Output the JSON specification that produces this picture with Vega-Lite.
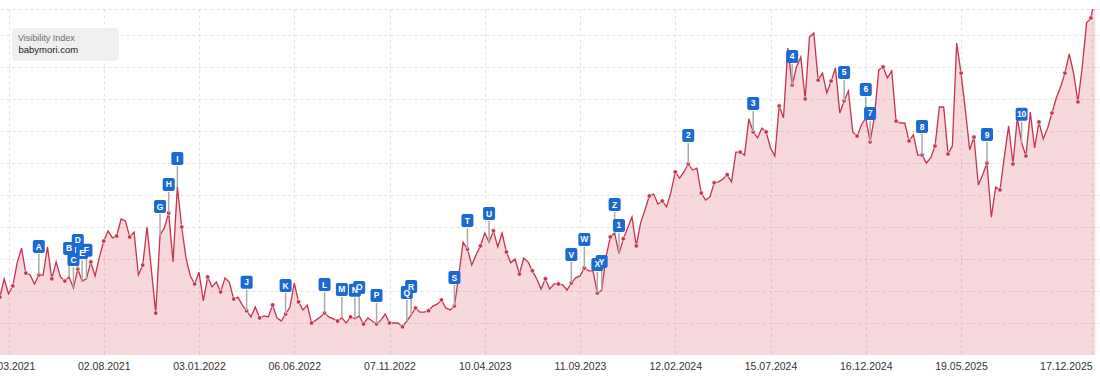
{
  "$schema": "https://vega.github.io/schema/vega-lite/v6.json",
  "autosize": "none",
  "width": 1100,
  "height": 346,
  "padding": {"left": 0, "top": 9, "right": 0, "bottom": 25},
  "background": "white",
  "config": {"view": {"stroke": null}, "font": "Liberation Sans"},
  "data": {"values": [
    {"d":"2021-02-15","v":18.1},{"d":"2021-02-22","v":23.8},{"d":"2021-03-01","v":19.1},{"d":"2021-03-08","v":21.6},{"d":"2021-03-15","v":28.8},{"d":"2021-03-22","v":33.4},{"d":"2021-03-29","v":25.6},{"d":"2021-04-05","v":25.0},{"d":"2021-04-12","v":22.2},{"d":"2021-04-19","v":25.0,"f":"A"},
    {"d":"2021-04-26","v":25.0},{"d":"2021-05-03","v":33.8},{"d":"2021-05-10","v":23.8},{"d":"2021-05-17","v":29.1},{"d":"2021-05-24","v":24.4},{"d":"2021-05-31","v":23.1},{"d":"2021-06-07","v":24.4,"f":"B"},{"d":"2021-06-14","v":20.9,"f":"C"},{"d":"2021-06-21","v":26.9,"f":"D"},{"d":"2021-06-28","v":23.1,"f":"E"},
    {"d":"2021-07-05","v":23.8,"f":"F"},{"d":"2021-07-12","v":29.1},{"d":"2021-07-19","v":24.7},{"d":"2021-07-26","v":30.6},{"d":"2021-08-02","v":35.6},{"d":"2021-08-09","v":38.8},{"d":"2021-08-16","v":36.6},{"d":"2021-08-23","v":37.2},{"d":"2021-08-30","v":42.5},{"d":"2021-09-06","v":41.9},
    {"d":"2021-09-13","v":36.9},{"d":"2021-09-20","v":38.4},{"d":"2021-09-27","v":25.0},{"d":"2021-10-04","v":28.1},{"d":"2021-10-11","v":40.0},{"d":"2021-10-18","v":26.6},{"d":"2021-10-25","v":13.1},{"d":"2021-11-01","v":37.5,"f":"G"},{"d":"2021-11-08","v":39.7},{"d":"2021-11-15","v":44.4,"f":"H"},
    {"d":"2021-11-22","v":29.1},{"d":"2021-11-29","v":52.5,"f":"I"},{"d":"2021-12-06","v":40.0},{"d":"2021-12-13","v":30.3},{"d":"2021-12-20","v":24.7},{"d":"2021-12-27","v":22.2},{"d":"2022-01-03","v":25.9},{"d":"2022-01-10","v":16.9},{"d":"2022-01-17","v":24.4},{"d":"2022-01-24","v":21.3},
    {"d":"2022-01-31","v":22.8},{"d":"2022-02-07","v":19.7},{"d":"2022-02-14","v":24.1},{"d":"2022-02-21","v":22.8},{"d":"2022-02-28","v":17.5},{"d":"2022-03-07","v":18.1},{"d":"2022-03-14","v":15.6},{"d":"2022-03-21","v":13.8,"f":"J"},{"d":"2022-03-28","v":11.9},{"d":"2022-04-04","v":15.0},
    {"d":"2022-04-11","v":11.6},{"d":"2022-04-18","v":12.2},{"d":"2022-04-25","v":11.9},{"d":"2022-05-02","v":15.6},{"d":"2022-05-09","v":11.6},{"d":"2022-05-16","v":10.6},{"d":"2022-05-23","v":12.8,"f":"K"},{"d":"2022-05-30","v":15.0},{"d":"2022-06-06","v":22.5},{"d":"2022-06-13","v":16.6},
    {"d":"2022-06-20","v":14.1},{"d":"2022-06-27","v":15.6},{"d":"2022-07-04","v":10.0},{"d":"2022-07-11","v":10.9},{"d":"2022-07-18","v":11.9},{"d":"2022-07-25","v":13.1,"f":"L"},{"d":"2022-08-01","v":11.9},{"d":"2022-08-08","v":11.3},{"d":"2022-08-15","v":10.6},{"d":"2022-08-22","v":11.6,"f":"M"},
    {"d":"2022-08-29","v":10.0},{"d":"2022-09-05","v":11.9},{"d":"2022-09-12","v":11.3,"f":"N"},{"d":"2022-09-19","v":12.2,"f":"O"},{"d":"2022-09-26","v":9.7},{"d":"2022-10-03","v":11.6},{"d":"2022-10-10","v":10.6},{"d":"2022-10-17","v":9.7,"f":"P"},{"d":"2022-10-24","v":10.9},{"d":"2022-10-31","v":12.8},
    {"d":"2022-11-07","v":10.0},{"d":"2022-11-14","v":10.0},{"d":"2022-11-21","v":10.0},{"d":"2022-11-28","v":8.8},{"d":"2022-12-05","v":10.6,"f":"Q"},{"d":"2022-12-12","v":12.5,"f":"R"},{"d":"2022-12-19","v":14.7},{"d":"2022-12-26","v":13.4},{"d":"2023-01-02","v":13.4},{"d":"2023-01-09","v":13.8},
    {"d":"2023-01-16","v":15.3},{"d":"2023-01-23","v":15.9},{"d":"2023-01-30","v":17.2},{"d":"2023-02-06","v":14.7},{"d":"2023-02-13","v":14.1},{"d":"2023-02-20","v":15.3,"f":"S"},{"d":"2023-02-27","v":25.0},{"d":"2023-03-06","v":35.3},{"d":"2023-03-13","v":33.1,"f":"T"},{"d":"2023-03-20","v":28.1},
    {"d":"2023-03-27","v":31.3},{"d":"2023-04-03","v":34.1},{"d":"2023-04-10","v":38.1},{"d":"2023-04-17","v":35.3,"f":"U"},{"d":"2023-04-24","v":38.8},{"d":"2023-05-01","v":33.8},{"d":"2023-05-08","v":38.1},{"d":"2023-05-15","v":32.2},{"d":"2023-05-22","v":28.8},{"d":"2023-05-29","v":30.0},
    {"d":"2023-06-05","v":25.3},{"d":"2023-06-12","v":30.3},{"d":"2023-06-19","v":29.1},{"d":"2023-06-26","v":26.3},{"d":"2023-07-03","v":23.8},{"d":"2023-07-10","v":20.6},{"d":"2023-07-17","v":23.8},{"d":"2023-07-24","v":20.6},{"d":"2023-07-31","v":22.2},{"d":"2023-08-07","v":22.2},
    {"d":"2023-08-14","v":21.9},{"d":"2023-08-21","v":20.3},{"d":"2023-08-28","v":22.5,"f":"V"},{"d":"2023-09-04","v":24.1},{"d":"2023-09-11","v":24.7},{"d":"2023-09-18","v":27.2,"f":"W"},{"d":"2023-09-25","v":26.3},{"d":"2023-10-02","v":26.3},{"d":"2023-10-09","v":19.4,"f":"X"},{"d":"2023-10-16","v":20.3,"f":"Y"},
    {"d":"2023-10-23","v":30.6},{"d":"2023-10-30","v":36.9},{"d":"2023-11-06","v":38.1,"f":"Z"},{"d":"2023-11-13","v":31.6,"f":"1"},{"d":"2023-11-20","v":36.3},{"d":"2023-11-27","v":39.7},{"d":"2023-12-04","v":43.1},{"d":"2023-12-11","v":34.1},{"d":"2023-12-18","v":41.3},{"d":"2023-12-25","v":45.3},
    {"d":"2024-01-01","v":49.7},{"d":"2024-01-08","v":50.3},{"d":"2024-01-15","v":47.2},{"d":"2024-01-22","v":48.1},{"d":"2024-01-29","v":46.3},{"d":"2024-02-05","v":50.9},{"d":"2024-02-12","v":57.2},{"d":"2024-02-19","v":55.3},{"d":"2024-02-26","v":57.2},{"d":"2024-03-04","v":59.7,"f":"2"},
    {"d":"2024-03-11","v":57.8},{"d":"2024-03-18","v":58.4},{"d":"2024-03-25","v":50.6},{"d":"2024-04-01","v":48.4},{"d":"2024-04-08","v":49.4},{"d":"2024-04-15","v":53.8},{"d":"2024-04-22","v":54.1},{"d":"2024-04-29","v":55.0},{"d":"2024-05-06","v":56.3},{"d":"2024-05-13","v":54.1},
    {"d":"2024-05-20","v":63.4},{"d":"2024-05-27","v":63.4},{"d":"2024-06-03","v":62.5},{"d":"2024-06-10","v":73.8},{"d":"2024-06-17","v":69.7,"f":"3"},{"d":"2024-06-24","v":67.8},{"d":"2024-07-01","v":70.9},{"d":"2024-07-08","v":69.7},{"d":"2024-07-15","v":64.7},{"d":"2024-07-22","v":62.2},
    {"d":"2024-07-29","v":77.8},{"d":"2024-08-05","v":74.1},{"d":"2024-08-12","v":95.9},{"d":"2024-08-19","v":84.4,"f":"4"},{"d":"2024-08-26","v":90.0},{"d":"2024-09-02","v":93.1},{"d":"2024-09-09","v":80.0},{"d":"2024-09-16","v":99.4},{"d":"2024-09-23","v":100.6},{"d":"2024-09-30","v":85.9},
    {"d":"2024-10-07","v":88.1},{"d":"2024-10-14","v":81.9},{"d":"2024-10-21","v":85.6},{"d":"2024-10-28","v":89.7},{"d":"2024-11-04","v":75.6},{"d":"2024-11-11","v":79.4,"f":"5"},{"d":"2024-11-18","v":82.5},{"d":"2024-11-25","v":69.7},{"d":"2024-12-02","v":68.4},{"d":"2024-12-09","v":71.9},
    {"d":"2024-12-16","v":74.1,"f":"6"},{"d":"2024-12-23","v":66.6,"f":"7"},{"d":"2024-12-30","v":74.4},{"d":"2025-01-06","v":89.1},{"d":"2025-01-13","v":90.0},{"d":"2025-01-20","v":86.6},{"d":"2025-01-27","v":88.8},{"d":"2025-02-03","v":73.1},{"d":"2025-02-10","v":72.5},{"d":"2025-02-17","v":72.5},
    {"d":"2025-02-24","v":66.9},{"d":"2025-03-03","v":68.8},{"d":"2025-03-10","v":62.5},{"d":"2025-03-17","v":62.5,"f":"8"},{"d":"2025-03-24","v":60.0},{"d":"2025-03-31","v":61.6},{"d":"2025-04-07","v":65.3},{"d":"2025-04-14","v":77.5},{"d":"2025-04-21","v":77.5},{"d":"2025-04-28","v":62.8},
    {"d":"2025-05-05","v":65.3},{"d":"2025-05-12","v":97.5},{"d":"2025-05-19","v":88.1},{"d":"2025-05-26","v":76.6},{"d":"2025-06-02","v":64.1},{"d":"2025-06-09","v":68.1},{"d":"2025-06-16","v":53.1},{"d":"2025-06-23","v":56.3},{"d":"2025-06-30","v":60.0,"f":"9"},{"d":"2025-07-07","v":43.1},
    {"d":"2025-07-14","v":52.5},{"d":"2025-07-21","v":51.6},{"d":"2025-07-28","v":61.9},{"d":"2025-08-04","v":71.6},{"d":"2025-08-11","v":59.7},{"d":"2025-08-18","v":74.1},{"d":"2025-08-25","v":66.3,"f":"10"},{"d":"2025-09-01","v":62.2},{"d":"2025-09-08","v":75.9},{"d":"2025-09-15","v":64.7},
    {"d":"2025-09-22","v":72.8},{"d":"2025-09-29","v":67.5},{"d":"2025-10-06","v":70.9},{"d":"2025-10-13","v":75.6},{"d":"2025-10-20","v":80.3},{"d":"2025-10-27","v":83.8},{"d":"2025-11-03","v":88.1},{"d":"2025-11-10","v":94.1},{"d":"2025-11-17","v":88.1},{"d":"2025-11-24","v":79.1},
    {"d":"2025-12-01","v":90.0},{"d":"2025-12-08","v":103.8},{"d":"2025-12-15","v":105.3},{"d":"2025-12-22","v":112.5}
  ]},
  "encoding": {
    "x": {
      "field": "d", "type": "temporal", "title": null,
      "scale": {"type": "utc", "domain": [{"year":2021,"month":2,"date":15,"hours":6,"utc":true},{"year":2025,"month":12,"date":29,"hours":17,"utc":true}]},
      "axis": {
        "values": [{"year":2021,"month":3,"date":1,"utc":true},{"year":2021,"month":8,"date":2,"utc":true},{"year":2022,"month":1,"date":3,"utc":true},{"year":2022,"month":6,"date":6,"utc":true},{"year":2022,"month":11,"date":7,"utc":true},{"year":2023,"month":4,"date":10,"utc":true},{"year":2023,"month":9,"date":11,"utc":true},{"year":2024,"month":2,"date":12,"utc":true},{"year":2024,"month":7,"date":15,"utc":true},{"year":2024,"month":12,"date":16,"utc":true},{"year":2025,"month":5,"date":19,"utc":true},{"year":2025,"month":12,"date":17,"utc":true}],
        "format": "%d.%m.%Y",
        "labelFont": "Liberation Sans", "labelFontSize": 10.5, "labelColor": "#333333",
        "labelPadding": 6, "ticks": false, "tickSize": 0, "domain": false,
        "grid": true, "gridDash": [3, 3], "gridColor": "#e3e3e3", "gridWidth": 1,
        "labelOverlap": false, "labelFlush": false,
        "labelAlign": {"condition": {"test": "datum.value > utc(2025, 9, 1)", "value": "right"}, "value": "center"}
      }
    },
    "y": {
      "field": "v", "type": "quantitative", "title": null,
      "scale": {"domain": [0, 108.125], "nice": false, "zero": true},
      "axis": {"labels": false, "ticks": false, "domain": false, "grid": true, "gridDash": [3, 3], "gridColor": "#e3e3e3", "values": [10, 20, 30, 40, 50, 60, 70, 80, 90, 100, 108.125]}
    }
  },
  "layer": [
    {"mark": {"type": "area", "color": "#d23c55", "fillOpacity": 0.2, "clip": true}},
    {
      "mark": {"type": "line", "strokeWidth": 1.3, "clip": true},
      "encoding": {
        "color": {
          "datum": "babymori.com", "type": "nominal",
          "scale": {"range": ["#c8334b"]},
          "legend": {
            "title": "Visibility Index",
            "orient": "none", "legendX": 12, "legendY": 19,
            "titleFont": "Liberation Sans", "titleFontSize": 9, "titleFontWeight": "normal", "titleColor": "#6b6b6b", "titlePadding": 2,
            "labelFont": "Liberation Sans", "labelFontSize": 9.5, "labelColor": "#1a1a1a", "labelOffset": -9,
            "labelExpr": "datum.label + '\u00a0\u00a0\u00a0\u00a0\u00a0\u00a0\u00a0\u00a0\u00a0\u00a0\u00a0\u00a0\u00a0\u200b'",
            "symbolType": "circle", "symbolSize": 1, "symbolOpacity": 0, "symbolStrokeWidth": 0,
            "fillColor": "#efefef", "cornerRadius": 4, "padding": 6, "strokeColor": null
          }
        }
      }
    },
    {
      "transform": [{"window": [{"op": "row_number", "as": "i"}]}, {"filter": "(datum.i - 1) % 3 == 0"}],
      "mark": {"type": "circle", "size": 20, "color": "#c8334b", "opacity": 1, "stroke": "#ffffff", "strokeWidth": 0.6, "clip": true}
    },
    {
      "transform": [{"filter": "isValid(datum.f)"}],
      "mark": {"type": "rule", "color": "#aaaaaa", "strokeWidth": 1.5, "y2Offset": -21},
      "encoding": {"y2": {"field": "v"}}
    },
    {
      "transform": [{"filter": "isValid(datum.f)"}],
      "mark": {"type": "rect", "color": "#1b6ad3", "cornerRadius": 2, "xOffset": -6, "x2Offset": 6, "yOffset": -35, "y2Offset": -22},
      "encoding": {"x2": {"field": "d"}, "y2": {"field": "v"}}
    },
    {
      "transform": [{"filter": "isValid(datum.f)"}],
      "mark": {"type": "text", "color": "#ffffff", "font": "Liberation Sans", "fontSize": 8.5, "fontWeight": "bold", "align": "center", "baseline": "middle", "yOffset": -28.5},
      "encoding": {"text": {"field": "f"}}
    }
  ]
}
